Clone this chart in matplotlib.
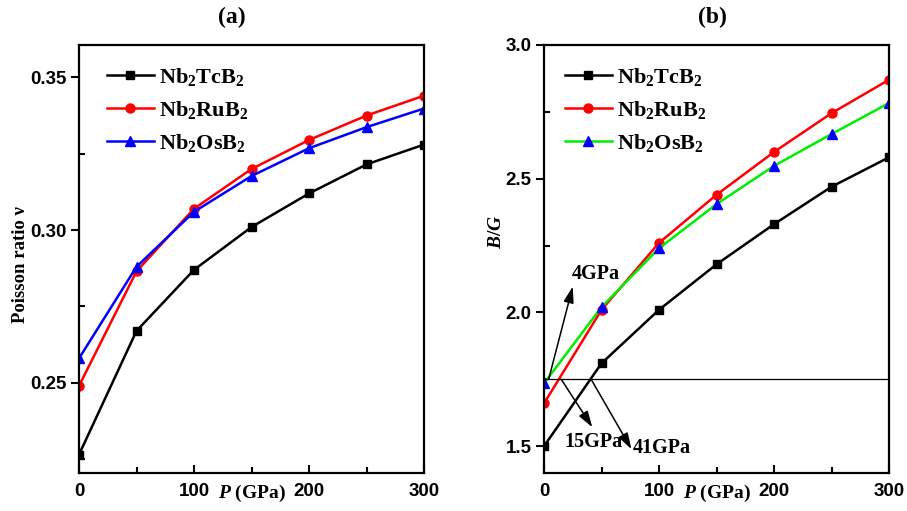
import matplotlib
matplotlib.use('Agg')
import matplotlib.pyplot as plt
from matplotlib.ticker import MultipleLocator, FormatStrFormatter

# pressure points (GPa)
pressure = [0, 50, 100, 150, 200, 250, 300]

# (a) Poisson ratio
nu_tc = [0.2265, 0.267, 0.287, 0.301, 0.312, 0.3215, 0.328]
nu_ru = [0.249, 0.2865, 0.307, 0.320, 0.3295, 0.3375, 0.344]
nu_os = [0.258, 0.288, 0.306, 0.3177, 0.3268, 0.3337, 0.3398]

# (b) B/G ratio
bg_tc = [1.50, 1.81, 2.01, 2.18, 2.33, 2.47, 2.58]
bg_ru = [1.66, 2.01, 2.26, 2.44, 2.60, 2.745, 2.87]
bg_os = [1.735, 2.02, 2.24, 2.405, 2.548, 2.667, 2.783]

labels = ['Nb$_2$TcB$_2$', 'Nb$_2$RuB$_2$', 'Nb$_2$OsB$_2$']

# ductile/brittle border and the crossing pressures
bg_limit = 1.75
cross_labels = ['4GPa', '15GPa', '41GPa']
cross_p = [4, 15, 41]

plt.rcParams['mathtext.fontset'] = 'custom'
plt.rcParams['mathtext.rm'] = 'Liberation Serif:bold'
plt.rcParams['mathtext.it'] = 'Liberation Serif:italic:bold'
plt.rcParams['mathtext.bf'] = 'Liberation Serif:bold'

serif = dict(family='Liberation Serif', weight='bold')

fig = plt.figure(figsize=(9.07, 5.11), dpi=100)
ax1 = fig.add_axes([0.0871, 0.0744, 0.3804, 0.8376])
ax2 = fig.add_axes([0.5998, 0.0744, 0.3804, 0.8376])


def style_axis(ax):
    for s in ax.spines.values():
        s.set_linewidth(1.6)
    ax.set_xlim(0, 300)
    ax.xaxis.set_major_locator(MultipleLocator(100))
    ax.xaxis.set_minor_locator(MultipleLocator(50))
    ax.tick_params(axis='x', which='major', direction='in', length=6, width=1.5, pad=7)
    ax.tick_params(axis='x', which='minor', direction='in', length=4, width=1.5)
    ax.tick_params(axis='y', which='major', direction='out', length=6, width=1.5, pad=3)
    ax.tick_params(axis='y', which='minor', direction='in', length=4, width=1.5)
    for t in ax.get_xticklabels() + ax.get_yticklabels():
        t.set_family('Liberation Sans')
        t.set_weight('bold')
        t.set_fontsize(13.5)
    ax.set_xlabel('$P$ (GPa)', fontsize=14, **serif)
    ax.xaxis.set_label_coords(0.5, -0.022)


def add_legend(ax, x0):
    ax.legend(loc='upper left', bbox_to_anchor=(x0, 0.952), frameon=False,
              prop=dict(size=16, **serif), handlelength=2.1, handletextpad=0.25,
              labelspacing=0.5, borderaxespad=0, borderpad=0)


# panel (a)
ax1.plot(pressure, nu_tc, '-s', color='black', lw=1.8, ms=5.5, label=labels[0])
ax1.plot(pressure, nu_ru, '-o', color='#ff0000', lw=1.8, ms=6.5, label=labels[1])
ax1.plot(pressure, nu_os, '-^', color='#0000ff', lw=1.8, ms=7, label=labels[2])
ax1.set_ylim(0.2205, 0.3606)
ax1.yaxis.set_major_locator(MultipleLocator(0.05))
ax1.yaxis.set_minor_locator(MultipleLocator(0.025))
ax1.yaxis.set_major_formatter(FormatStrFormatter('%.2f'))
style_axis(ax1)
ax1.set_ylabel('Poisson ratio ν', fontsize=13.5, **serif)
ax1.yaxis.set_label_coords(-0.145, 0.486)
add_legend(ax1, 0.081)

# panel (b)
ax2.plot(pressure, bg_tc, '-s', color='black', lw=1.8, ms=5.5, label=labels[0])
ax2.plot(pressure, bg_ru, '-o', color='#ff0000', lw=1.8, ms=6.5, label=labels[1])
ax2.plot(pressure, bg_os, '-^', color='#00ee00', lw=1.8, ms=7,
         mfc='#0000ff', mec='#0000ff', label=labels[2])
ax2.axhline(bg_limit, color='black', lw=0.9)
ax2.set_ylim(1.4, 3.0)
ax2.yaxis.set_major_locator(MultipleLocator(0.5))
ax2.yaxis.set_minor_locator(MultipleLocator(0.25))
ax2.yaxis.set_major_formatter(FormatStrFormatter('%.1f'))
style_axis(ax2)
ax2.set_ylabel('$B/G$', fontsize=14, **serif)
ax2.yaxis.set_label_coords(-0.113, 0.563)
add_legend(ax2, 0.061)

# arrows pointing at the crossing pressures
arrow_tips = [(25, 2.097), (42, 1.571), (76, 1.489)]
text_pos = [(24, 2.142), (42.6, 1.515), (102.5, 1.493)]
text_ha = ['left', 'center', 'center']
for p, tip, tp, lab, ha in zip(cross_p, arrow_tips, text_pos, cross_labels, text_ha):
    ax2.annotate('', xy=tip, xytext=(p, bg_limit),
                 arrowprops=dict(arrowstyle='-|>,head_length=0.7,head_width=0.22',
                                 color='black', lw=1.1, mutation_scale=14,
                                 shrinkA=0, shrinkB=0))
    ax2.text(tp[0], tp[1], lab, ha=ha, va='center', fontsize=14.5, **serif)

fig.text(232 / 907, 1 - 17 / 511, '(a)', ha='center', va='center', fontsize=17, **serif)
fig.text(712 / 907, 1 - 17 / 511, '(b)', ha='center', va='center', fontsize=17, **serif)

fig.savefig('out.png', dpi=100)
